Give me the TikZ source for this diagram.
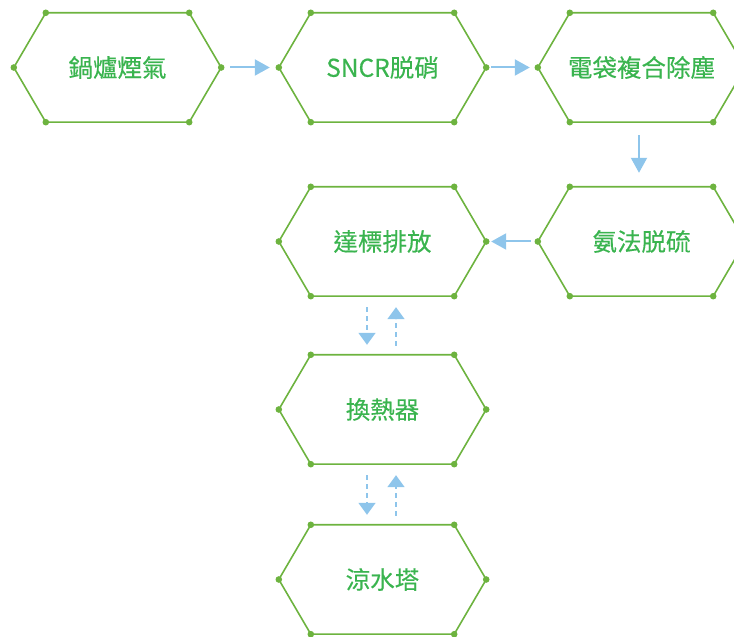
\documentclass[tikz,border=0pt]{standalone}
\usepackage{fontspec}
\newfontfamily\cjk[FakeBold=0.35]{Noto Sans CJK TC}
\usetikzlibrary{arrows.meta}
\definecolor{hexgreen}{HTML}{6DB33F}
\definecolor{txtgreen}{HTML}{3AB44F}
\definecolor{arrblue}{HTML}{8EC5EB}
\tikzset{
  hexbox/.style={minimum width=207pt, minimum height=109pt, inner sep=0pt, text=txtgreen, font=\cjk\fontsize{24.5}{24.5}\selectfont},
  hexline/.style={draw=hexgreen, line width=1.6pt, line join=round},
  flow/.style={draw=arrblue, line width=2pt, -{Triangle[length=15pt, width=16pt]}},
  back/.style={draw=arrblue, line width=1.6pt, dash pattern=on 5pt off 4pt, -{Triangle[length=12pt, width=17pt]}}
}
\newcommand\hexnode[4]{%
  \node[hexbox] (#1) at (#2,#3) {#4};
  \coordinate (#1-a) at (#1.west);
  \coordinate (#1-b) at ([xshift=32pt]#1.north west);
  \coordinate (#1-c) at ([xshift=-32pt]#1.north east);
  \coordinate (#1-d) at (#1.east);
  \coordinate (#1-e) at ([xshift=-32pt]#1.south east);
  \coordinate (#1-f) at ([xshift=32pt]#1.south west);
  \draw[hexline] (#1-a) -- (#1-b) -- (#1-c) -- (#1-d) -- (#1-e) -- (#1-f) -- cycle;
  \foreach \v in {a,b,c,d,e,f}{\fill[hexgreen] (#1-\v) circle (3.3pt);}
}
\begin{document}
\begin{tikzpicture}[x=1pt,y=1pt]
\useasboundingbox (0,0) rectangle (734,637);
\clip (0,0) rectangle (734,637);
\hexnode{boiler}{117.5}{569.5}{鍋爐煙氣}
\hexnode{sncr}{382.5}{569.5}{SNCR脱硝}
\hexnode{dust}{641.5}{569.5}{電袋複合除塵}
\hexnode{desulf}{641.5}{395.5}{氨法脱硫}
\hexnode{emit}{382.5}{395.5}{達標排放}
\hexnode{heat}{382.5}{227.5}{換熱器}
\hexnode{tower}{382.5}{57.5}{涼水塔}
\draw[flow, shorten <=9pt, shorten >=9pt] (boiler-d) -- (sncr-a);
\draw[flow, shorten <=5pt, shorten >=8pt] (sncr-d) -- (dust-a);
\draw[flow, shorten <=13pt, shorten >=14pt] ([xshift=-2.5pt]dust.south) -- ([xshift=-2.5pt]desulf.north);
\draw[flow, shorten <=7pt, shorten >=5pt] (desulf-a) -- (emit-d);
\draw[back, shorten <=11pt, shorten >=10pt] ([xshift=-15.5pt]emit.south) -- ([xshift=-15.5pt]heat.north);
\draw[back, shorten <=9pt, shorten >=11pt] ([xshift=13.5pt]heat.north) -- ([xshift=13.5pt]emit.south);
\draw[back, shorten <=11pt, shorten >=10pt] ([xshift=-15.5pt]heat.south) -- ([xshift=-15.5pt]tower.north);
\draw[back, shorten <=9pt, shorten >=11pt] ([xshift=13.5pt]tower.north) -- ([xshift=13.5pt]heat.south);
\end{tikzpicture}
\end{document}
